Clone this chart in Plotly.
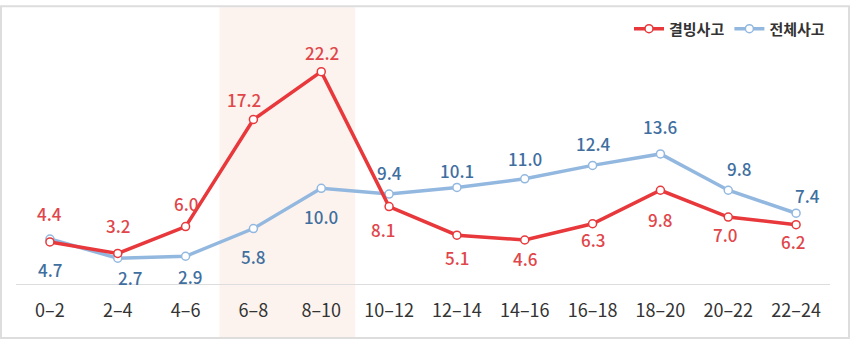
import plotly.graph_objects as go

categories = ["0–2", "2–4", "4–6", "6–8", "8–10", "10–12", "12–14", "14–16", "16–18", "18–20", "20–22", "22–24"]
icy_accidents = [4.4, 3.2, 6.0, 17.2, 22.2, 8.1, 5.1, 4.6, 6.3, 9.8, 7.0, 6.2]
all_accidents = [4.7, 2.7, 2.9, 5.8, 10.0, 9.4, 10.1, 11.0, 12.4, 13.6, 9.8, 7.4]
icy_name = "결빙사고"
all_name = "전체사고"
highlight = ["6–8", "8–10"]

# label placement (style): vertical shift in px (+ up, - down), horizontal shift in px
icy_dy = [28, 28, 23, 20, 19, -23, -22, -18, -16, -29, -17, -17]
icy_dx = [0, 0, 0, -9, 1, -6, 0, 0, 0, 0, -3, -3]
all_dy = [-30, -19, -20, -28, -28, 22, 17, 20, 22, 27, 22, 18]
all_dx = [0, 12, 4, 0, 0, 0, 0, 0, 0, 0, 11, 11]

RED = "#e8383b"
RED_TXT = "#e0464a"
BLUE = "#93b8e0"
BLUE_TXT = "#3f6f9f"
FONT = "Noto Sans CJK KR"

W, H = 850, 340
ML, MR, MT, MB = 16, 20, 20, 56
PW = W - ML - MR
PH = H - MT - MB


def px_to_paper_x(px):
    return (px - ML) / PW


def px_to_paper_y(py):
    return (H - MB - py) / PH


fig = go.Figure()

fig.add_trace(go.Scatter(
    x=categories, y=all_accidents, name=all_name, mode="lines+markers",
    line=dict(color=BLUE, width=3.5),
    marker=dict(size=8, color="white", line=dict(color=BLUE, width=1.5)),
    legendrank=2, hoverinfo="skip",
))
fig.add_trace(go.Scatter(
    x=categories, y=icy_accidents, name=icy_name, mode="lines+markers",
    line=dict(color=RED, width=3.5),
    marker=dict(size=8, color="white", line=dict(color=RED, width=1.5)),
    legendrank=1, hoverinfo="skip",
))

annotations = []
for i, c in enumerate(categories):
    annotations.append(dict(
        x=c, y=icy_accidents[i], text=f"{icy_accidents[i]:.1f}", showarrow=False,
        yshift=icy_dy[i], xshift=icy_dx[i],
        font=dict(family=FONT, size=17, color=RED_TXT, weight=500),
    ))
    annotations.append(dict(
        x=c, y=all_accidents[i], text=f"{all_accidents[i]:.1f}", showarrow=False,
        yshift=all_dy[i], xshift=all_dx[i],
        font=dict(family=FONT, size=17, color=BLUE_TXT, weight=500),
    ))

i0 = categories.index(highlight[0])
i1 = categories.index(highlight[-1])
shapes = [
    dict(type="rect", xref="x", yref="paper", x0=i0 - 0.5, x1=i1 + 0.5,
         y0=px_to_paper_y(339), y1=px_to_paper_y(2),
         fillcolor="#fdf3ee", line=dict(width=0), layer="below"),
    dict(type="rect", xref="paper", yref="paper",
         x0=px_to_paper_x(1), x1=px_to_paper_x(849),
         y0=px_to_paper_y(339), y1=px_to_paper_y(1),
         line=dict(color="#dddddd", width=2), fillcolor="rgba(0,0,0,0)", layer="above"),
]

fig.update_layout(
    width=W, height=H,
    margin=dict(l=ML, r=MR, t=MT, b=MB),
    paper_bgcolor="white", plot_bgcolor="rgba(0,0,0,0)",
    font=dict(family=FONT, color="#333333"),
    showlegend=True,
    legend=dict(orientation="h", x=1, xanchor="right", y=px_to_paper_y(24), yanchor="middle",
                font=dict(family=FONT, size=15, color="#333333", weight="bold"),
                itemwidth=30, tracegroupgap=0, bgcolor="rgba(0,0,0,0)"),
    xaxis=dict(type="category", range=[-0.5, len(categories) - 0.5],
               showgrid=False, zeroline=False, showline=True, linecolor="#dddddd", linewidth=1,
               ticks="outside", ticklen=10, tickcolor="rgba(0,0,0,0)",
               tickfont=dict(family=FONT, size=18, color="#333333"), fixedrange=True),
    yaxis=dict(range=[0, PH / 9.75], showgrid=False, zeroline=False, showline=False,
               showticklabels=False, fixedrange=True),
    annotations=annotations,
    shapes=shapes,
)

fig.write_html("out.html")
